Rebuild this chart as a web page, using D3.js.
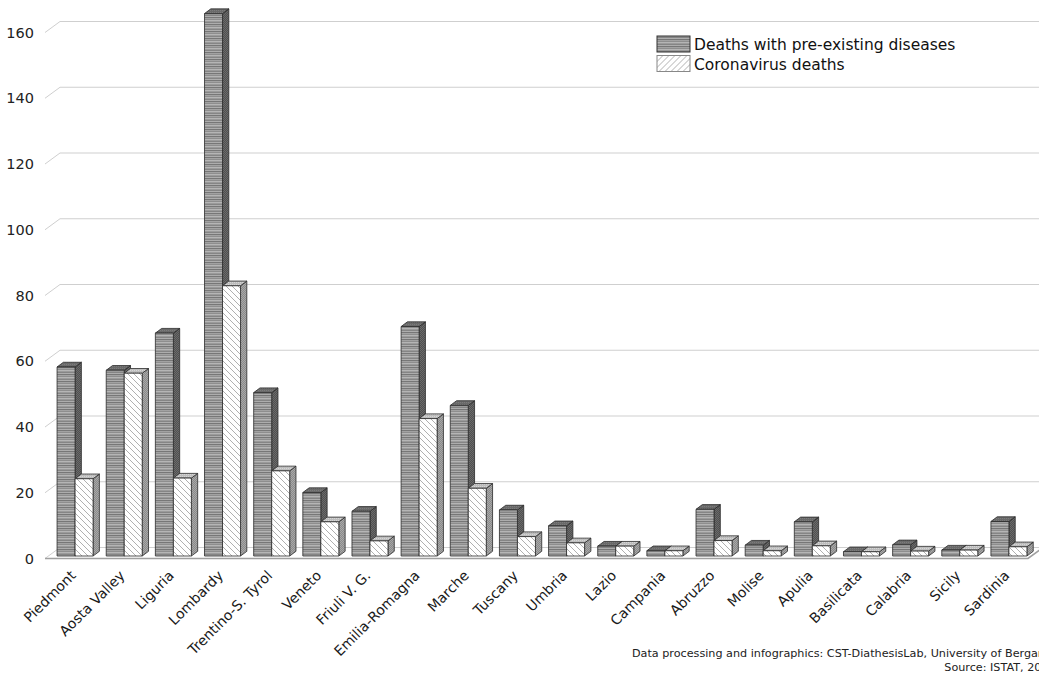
<!DOCTYPE html>
<html>
<head>
<meta charset="utf-8">
<script src="https://cdn.jsdelivr.net/npm/d3@7"></script>
<style>
  html, body { margin: 0; padding: 0; background: #fff; }
  svg { display: block; font-family: "DejaVu Sans", Verdana, sans-serif; }
</style>
</head>
<body>
<svg id="chart" width="1039" height="674"></svg>
<script>
// Regions of Italy and deaths (per million inhabitants)
const categories = ["Piedmont", "Aosta Valley", "Liguria", "Lombardy", "Trentino-S. Tyrol", "Veneto",
  "Friuli V. G.", "Emilia-Romagna", "Marche", "Tuscany", "Umbria", "Lazio", "Campania", "Abruzzo",
  "Molise", "Apulia", "Basilicata", "Calabria", "Sicily", "Sardinia"];
const preExisting = [57.5, 56.5, 67.8, 165, 49.7, 19.3, 13.6, 69.8, 45.8, 14, 9.2, 3, 1.6, 14.2, 3.3, 10.4, 1.3, 3.4, 1.8, 10.5];
const coronavirus = [23.5, 55.6, 23.7, 82.2, 25.9, 10.4, 4.6, 41.8, 20.6, 5.9, 4, 3, 1.6, 4.7, 1.6, 3.1, 1.3, 1.5, 1.8, 2.8];
const seriesNames = ["Deaths with pre-existing diseases", "Coronavirus deaths"];
const tickValues = [0, 20, 40, 60, 80, 100, 120, 140, 160];
const footerLines = ["Data processing and infographics: CST-DiathesisLab, University of Bergamo", "Source: ISTAT, 2020"];

const svg = d3.select("#chart");
const W = 1039;

// oblique 3D offsets
const wall = { dx: 15, dy: -11 };      // front of floor -> back wall
const barDepth = { dx: 6.3, dy: -4.7 }; // thickness of each column
const barShift = { dx: 5.5, dy: -2.5 }; // columns sit slightly behind the front edge

const x = d3.scaleBand().domain(categories).range([45, 1028]).paddingInner(0.2675).paddingOuter(0.13375);
const xs = d3.scaleBand().domain([0, 1]).range([0, x.bandwidth()]);
const y = d3.scaleLinear().domain([0, 160]).range([558.5, 32.5]);

// ---- fill patterns
const defs = svg.append("defs");
function pattern(id, w, h, build) {
  const p = defs.append("pattern").attr("id", id).attr("patternUnits", "userSpaceOnUse")
    .attr("width", w).attr("height", h);
  build(p);
}
pattern("stripes", 4, 7, p => {
  ["#9a9a9a", "#858585", "#adadad", "#777777", "#a2a2a2", "#8e8e8e", "#b5b5b5"].forEach((c, i) =>
    p.append("rect").attr("x", 0).attr("y", i).attr("width", 4).attr("height", 1).attr("fill", c));
});
pattern("darkSide", 2, 2, p => {
  p.append("rect").attr("width", 2).attr("height", 2).attr("fill", "#505050");
  p.append("rect").attr("width", 1).attr("height", 1).attr("fill", "#6a6a6a");
  p.append("rect").attr("x", 1).attr("y", 1).attr("width", 1).attr("height", 1).attr("fill", "#6a6a6a");
});
pattern("darkTop", 2, 2, p => {
  p.append("rect").attr("width", 2).attr("height", 2).attr("fill", "#6a6a6a");
  p.append("rect").attr("width", 1).attr("height", 1).attr("fill", "#7c7c7c");
});
pattern("hatch", 6, 6, p => {
  p.append("rect").attr("width", 6).attr("height", 6).attr("fill", "#fff");
  p.append("path").attr("d", "M0,0L6,6M-1,5L1,7M5,-1L7,1").attr("stroke", "#b0b0b0").attr("stroke-width", 1);
});
pattern("hatchLegend", 6, 6, p => {
  p.append("rect").attr("width", 6).attr("height", 6).attr("fill", "#fff");
  p.append("path").attr("d", "M0,6L6,0M-1,1L1,-1M5,7L7,5").attr("stroke", "#b0b0b0").attr("stroke-width", 1);
});
pattern("lightSide", 2, 2, p => {
  p.append("rect").attr("width", 2).attr("height", 2).attr("fill", "#8a8a8a");
  p.append("rect").attr("width", 1).attr("height", 1).attr("fill", "#a8a8a8");
  p.append("rect").attr("x", 1).attr("y", 1).attr("width", 1).attr("height", 1).attr("fill", "#a8a8a8");
});
pattern("lightTop", 2, 2, p => {
  p.append("rect").attr("width", 2).attr("height", 2).attr("fill", "#bdbdbd");
  p.append("rect").attr("width", 1).attr("height", 1).attr("fill", "#d6d6d6");
});

const faces = [
  { front: "url(#stripes)", side: "url(#darkSide)", top: "url(#darkTop)" },
  { front: "url(#hatch)", side: "url(#lightSide)", top: "url(#lightTop)" }
];

// ---- back wall gridlines and left wall edges
const grid = svg.append("g").attr("stroke", "#cfcfcf").attr("stroke-width", 1).attr("fill", "none");
grid.selectAll("path").data(tickValues).join("path")
  .attr("d", v => `M45,${y(v)}L${45 + wall.dx},${y(v) + wall.dy}L${W + 5},${y(v) + wall.dy}`);

// floor front edge
svg.append("path")
  .attr("d", `M45,${y(0)}L1028,${y(0)}L${1028 + wall.dx},${y(0) + wall.dy}`)
  .attr("fill", "none").attr("stroke", "#a0a0a0").attr("stroke-width", 1.6);

// ---- y axis labels
const yAxis = d3.axisLeft(y).tickValues(tickValues).tickSize(0).tickPadding(3);
const ya = svg.append("g").attr("transform", "translate(37,0)").call(yAxis);
ya.select(".domain").remove();
ya.selectAll("text").attr("font-size", 14.5).attr("fill", "#222").attr("font-family", "DejaVu Sans, Verdana, sans-serif");

// ---- 3D columns
const rows = categories.map((c, i) => ({ c, vals: [preExisting[i], coronavirus[i]] }));
const bars = svg.append("g").attr("stroke", "#2a2a2a").attr("stroke-width", 0.8).attr("stroke-linejoin", "round");
rows.forEach(r => {
  r.vals.forEach((v, s) => {
    const x0 = x(r.c) + xs(s) + barShift.dx;
    const x1 = x0 + xs.bandwidth();
    const yt = y(v) + barShift.dy;
    const yb = y(0) + barShift.dy;
    const g = bars.append("g");
    g.append("path").attr("fill", faces[s].side)
      .attr("d", `M${x1},${yb}L${x1 + barDepth.dx},${yb + barDepth.dy}L${x1 + barDepth.dx},${yt + barDepth.dy}L${x1},${yt}Z`);
    g.append("path").attr("fill", faces[s].top)
      .attr("d", `M${x0},${yt}L${x0 + barDepth.dx},${yt + barDepth.dy}L${x1 + barDepth.dx},${yt + barDepth.dy}L${x1},${yt}Z`);
    g.append("rect").attr("fill", faces[s].front)
      .attr("x", x0).attr("y", yt).attr("width", x1 - x0).attr("height", Math.max(0, yb - yt));
  });
});

// ---- category labels
svg.append("g").selectAll("text").data(categories).join("text")
  .attr("transform", c => `translate(${x(c) + x.bandwidth() / 2 + barShift.dx - 2},${573}) rotate(-45)`)
  .attr("text-anchor", "end").attr("dy", "0.35em")
  .attr("font-size", 14).attr("fill", "#1a1a1a")
  .text(c => c);

// ---- legend
const legend = svg.append("g").attr("transform", "translate(657,36)");
const legendFills = ["url(#stripes)", "url(#hatchLegend)"];
seriesNames.forEach((name, i) => {
  const row = legend.append("g").attr("transform", `translate(0,${i * 19.5})`);
  row.append("rect").attr("width", 33).attr("height", 16).attr("fill", legendFills[i])
    .attr("stroke", i === 0 ? "#333" : "#888").attr("stroke-width", 1);
  row.append("text").attr("x", 37).attr("y", 14).attr("font-size", 15.5).attr("fill", "#111").text(name);
});

// ---- footer
const f1 = svg.append("text").attr("x", 632).attr("y", 657).attr("font-size", 11.2).attr("fill", "#222").text(footerLines[0]);
const endX = 632 + f1.node().getComputedTextLength();
svg.append("text").attr("x", endX).attr("y", 671).attr("text-anchor", "end")
  .attr("font-size", 11.2).attr("fill", "#222").text(footerLines[1]);
</script>
</body>
</html>
